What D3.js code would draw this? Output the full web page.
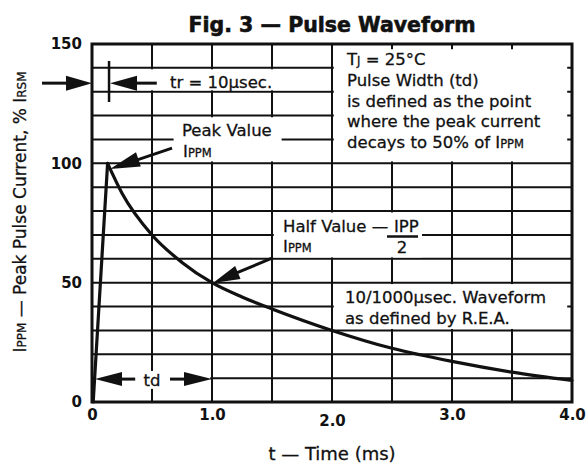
<!DOCTYPE html>
<html><head><meta charset="utf-8">
<script src="https://cdn.jsdelivr.net/npm/d3@7"></script>
<style>
html,body{margin:0;padding:0;background:#fff;}
svg{display:block;}
text{font-family:"DejaVu Sans","Liberation Sans",Arial,sans-serif;fill:#111;}
</style></head><body>
<svg id="chart" width="588" height="470"></svg>
<script>
// ---- data ----
const timeMs     = [0.01, 0.13, 0.25, 0.5, 0.75, 1.0, 1.25, 1.5, 2.0, 2.5, 3.0, 3.5, 4.0];
const currentPct = [0,    100,  87.5, 70,  58.5, 50,  44,   39,  30,  22.5, 17,  12.5, 9];
const xTicks = [0, 1, 2, 3, 4];
const xTickLabels = ["0", "1.0", "2.0", "3.0", "4.0"];
const yTicks = [0, 50, 100, 150];
const yTickLabels = ["0", "50", "100", "150"];
const xGrid = [0.5, 1, 1.5, 2, 2.5, 3, 3.5];
const yGrid = [10, 20, 30, 40, 50, 60, 70, 80, 90, 100, 110, 120, 130, 140];

const svg = d3.select("#chart");
const x = d3.scaleLinear().domain([0, 4]).range([92, 572]);
const y = d3.scaleLinear().domain([0, 150]).range([402, 44]);
const ink = "#111";

// title
svg.append("text").attr("x", 332).attr("y", 32).attr("text-anchor", "middle")
  .style("font-weight", "bold").style("font-size", "20.5px")
  .attr("stroke", ink).attr("stroke-width", 0.6)
  .text("Fig. 3 — Pulse Waveform");

// grid
const grid = svg.append("g").attr("stroke", ink).attr("stroke-width", 2);
grid.selectAll("line.v").data(xGrid).join("line").attr("class", "v")
  .attr("x1", d => x(d)).attr("x2", d => x(d)).attr("y1", y(0)).attr("y2", y(150));
grid.selectAll("line.h").data(yGrid).join("line").attr("class", "h")
  .attr("x1", x(0)).attr("x2", x(4)).attr("y1", d => y(d)).attr("y2", d => y(d));

// white label boxes that interrupt the grid
const boxes = [
  {t0: 0.18, t1: 1.985, v0: 130.6, v1: 139.4},
  {t0: 2.015, t1: 3.96, v0: 100.8, v1: 147.8},
  {t0: 0.68, t1: 1.58, v0: 100.8, v1: 119.3},
  {t0: 1.515, t1: 2.75, v0: 60.6, v1: 79.4},
  {t0: 2.015, t1: 3.96, v0: 30.6, v1: 49.4},
  {t0: 0.02, t1: 0.985, v0: 5.5, v1: 13.0}
];
svg.append("g").selectAll("rect").data(boxes).join("rect")
  .attr("x", d => x(d.t0)).attr("y", d => y(d.v1))
  .attr("width", d => x(d.t1) - x(d.t0)).attr("height", d => y(d.v0) - y(d.v1))
  .attr("fill", "#fff");

// frame
svg.append("rect").attr("x", x(0)).attr("y", y(150))
  .attr("width", x(4) - x(0)).attr("height", y(0) - y(150))
  .attr("fill", "none").attr("stroke", ink).attr("stroke-width", 3);

// axes (labels only)
const fmtX = d => xTickLabels[xTicks.indexOf(d)];
const fmtY = d => yTickLabels[yTicks.indexOf(d)];
const gx = svg.append("g").attr("transform", `translate(0,${y(0)})`)
  .call(d3.axisBottom(x).tickValues(xTicks).tickFormat(fmtX).tickSize(0).tickPadding(7));
gx.select(".domain").remove();
gx.selectAll("text").style("font-size", "15px").style("font-weight", "bold")
  .attr("fill", ink).attr("dy", d => d === 2 ? "1.1em" : "0.71em");
const gy = svg.append("g").attr("transform", `translate(${x(0)},0)`)
  .call(d3.axisLeft(y).tickValues(yTicks).tickFormat(fmtY).tickSize(0).tickPadding(10));
gy.select(".domain").remove();
gy.selectAll("text").style("font-size", "15px").style("font-weight", "bold").attr("fill", ink);

// axis titles
svg.append("text").attr("x", 332).attr("y", 460).attr("text-anchor", "middle")
  .style("font-size", "18px").attr("stroke", ink).attr("stroke-width", 0.3)
  .text("t —  Time (ms)");
const yt = svg.append("text").attr("transform", "translate(26,212) rotate(-90)")
  .attr("text-anchor", "middle").style("font-size", "17px")
  .attr("stroke", ink).attr("stroke-width", 0.3);
yt.append("tspan").text("I");
yt.append("tspan").style("font-size", "12px").text("PPM");
yt.append("tspan").text(" — Peak Pulse Current, % I");
yt.append("tspan").style("font-size", "12px").text("RSM");

// waveform
const pts = timeMs.map((t, i) => [t, currentPct[i]]);
const line = d3.line().x(d => x(d[0])).y(d => y(d[1]));
svg.append("path").attr("d", line.curve(d3.curveLinear)(pts.slice(0, 2)))
  .attr("fill", "none").attr("stroke", ink).attr("stroke-width", 3.2).attr("stroke-linecap", "round");
svg.append("path").attr("d", line.curve(d3.curveMonotoneX)(pts.slice(1)))
  .attr("fill", "none").attr("stroke", ink).attr("stroke-width", 3.2).attr("stroke-linecap", "round");

// arrows
function arrow(x1, y1, x2, y2, len, w) {
  const dx = x2 - x1, dy = y2 - y1, L = Math.hypot(dx, dy);
  const ux = dx / L, uy = dy / L, nx = -uy, ny = ux;
  const bx = x2 - ux * len, by = y2 - uy * len;
  svg.append("line").attr("x1", x1).attr("y1", y1).attr("x2", bx + ux * 2).attr("y2", by + uy * 2)
    .attr("stroke", ink).attr("stroke-width", 3);
  svg.append("path").attr("d", d3.line()([[x2, y2], [bx + nx * w / 2, by + ny * w / 2], [bx - nx * w / 2, by - ny * w / 2]]) + "Z")
    .attr("fill", ink);
}
// tr marker
svg.append("line").attr("x1", x(0.142)).attr("x2", x(0.142)).attr("y1", y(142.9)).attr("y2", y(125.7))
  .attr("stroke", ink).attr("stroke-width", 2.5);
arrow(42, y(133.6), x(0), y(133.6), 26, 15);
arrow(x(0.54), y(133.6), x(0.15), y(133.6), 27, 15);
// peak
arrow(x(0.667), y(106.4), x(0.15), y(97.6), 30, 15);
// half
arrow(x(1.5), y(60.3), x(1.008), y(49.9), 27, 14);
// td
arrow(x(0.36), y(9.6), x(0.025), y(9.6), 27, 14);
arrow(x(0.65), y(9.6), x(1.0), y(9.6), 28, 14);

// annotation texts
const fs = "16.5px", small = "11.5px";
function txt(xp, yp, parts, anchor) {
  const t = svg.append("text").attr("x", xp).attr("y", yp).style("font-size", fs)
    .attr("text-anchor", anchor || "start").attr("stroke", ink).attr("stroke-width", 0.3);
  parts.forEach(p => {
    const s = t.append("tspan").text(p[0]);
    if (p[1]) s.style("font-size", small);
  });
  return t;
}
txt(170, 88, [["tr = 10µsec."]]);
txt(347, 65, [["T"], ["J", true], [" = 25°C"]]);
txt(347, 86, [["Pulse Width (td)"]]);
txt(347, 107, [["is defined as the point"]]);
txt(347, 127, [["where the peak current"]]);
txt(347, 148, [["decays to 50% of I"], ["PPM", true]]);
txt(182, 136, [["Peak Value"]]);
txt(183, 157, [["I"], ["PPM", true]]);
txt(283, 232, [["Half Value —"]]);
txt(394, 232, [["IPP"]]);
svg.append("line").attr("x1", 387).attr("x2", 418).attr("y1", 236.5).attr("y2", 236.5)
  .attr("stroke", ink).attr("stroke-width", 2.5);
txt(402, 253, [["2"]], "middle");
txt(283, 252, [["I"], ["PPM", true]]);
txt(345, 303, [["10/1000µsec. Waveform"]]);
txt(345, 324, [["as defined by R.E.A."]]);
txt(152, 386, [["td"]], "middle");
</script>
</body></html>
